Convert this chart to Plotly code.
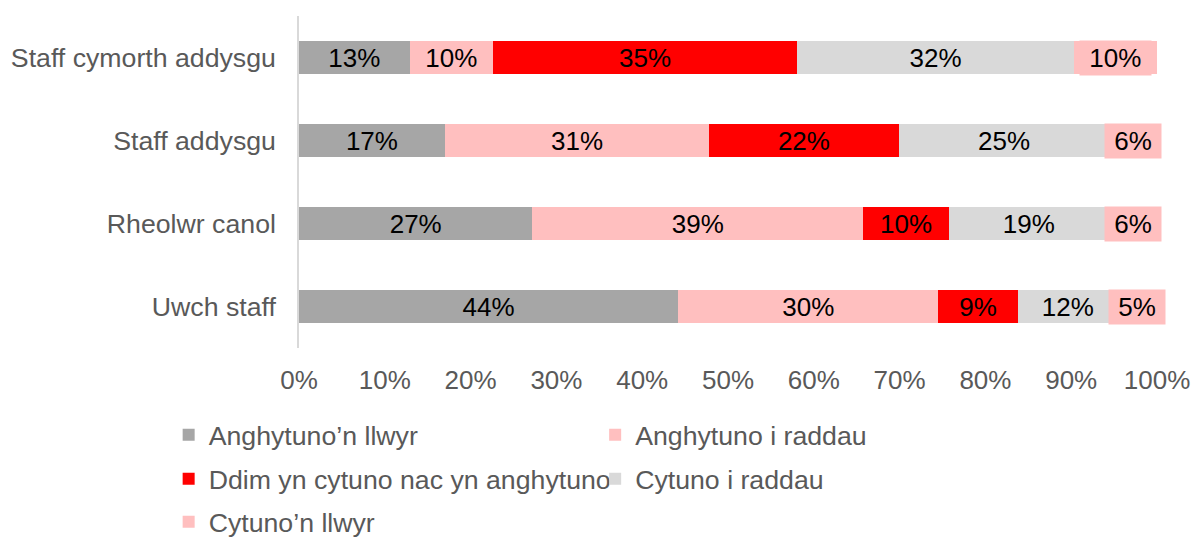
import plotly.graph_objects as go

categories = ["Staff cymorth addysgu", "Staff addysgu", "Rheolwr canol", "Uwch staff"]
series_names = ["Anghytuno’n llwyr", "Anghytuno i raddau", "Ddim yn cytuno nac yn anghytuno",
                "Cytuno i raddau", "Cytuno’n llwyr"]
anghytuno_llwyr = [12.9, 17.0, 27.2, 44.2]
anghytuno_raddau = [9.7, 30.8, 38.55, 30.3]
ddim = [35.45, 22.1, 10.0, 9.3]
cytuno_raddau = [32.3, 24.55, 18.6, 11.6]
cytuno_llwyr = [9.65, 5.55, 5.65, 4.6]
tick_vals = [0, 10, 20, 30, 40, 50, 60, 70, 80, 90, 100]
tick_text = ["0%", "10%", "20%", "30%", "40%", "50%", "60%", "70%", "80%", "90%", "100%"]

series = [anghytuno_llwyr, anghytuno_raddau, ddim, cytuno_raddau, cytuno_llwyr]
colors = ["#A6A6A6", "#FFBFBF", "#FF0000", "#D9D9D9", "#FFBFBF"]

FONT = "Liberation Sans, Arial, sans-serif"
fig = go.Figure()
legend_ids = ["legend", "legend2", "legend3", "legend4", "legend5"]
for i, (name, vals, col) in enumerate(zip(series_names, series, colors)):
    last = i == len(series) - 1
    fig.add_trace(go.Bar(
        y=categories, x=vals, name=name, orientation="h",
        marker=dict(color=col, line=dict(width=0)),
        texttemplate="%{x:.0f}%" if not last else None,
        textposition="inside" if not last else "none",
        insidetextanchor="middle",
        textangle=0,
        textfont=dict(family=FONT, size=26, color="#000000"),
        legend=legend_ids[i],
        hoverinfo="skip",
    ))

# labels with background boxes for the last series
for j, cat in enumerate(categories):
    start = sum(s[j] for s in series[:-1])
    v = cytuno_llwyr[j]
    fig.add_annotation(
        x=start + v / 2, y=cat, xref="x", yref="y",
        text=f"&nbsp;{v:.0f}%&nbsp;", showarrow=False,
        font=dict(family=FONT, size=26, color="#000000"),
        bgcolor="#FFBFBF", borderpad=2,
    )

# plot area geometry in px
top, bottom = 15.5, 347.9
H = bottom - top
L, R = 298.5, 1157.5
W = R - L

def px_x(p):
    return (p - L) / W

def px_y(p):
    return (bottom - p) / H

legend_pos = [(168, 435), (595, 435), (168, 479), (595, 479), (168, 522)]
layout_legends = {}
for lid, (lx, ly) in zip(legend_ids, legend_pos):
    layout_legends[lid] = dict(
        x=px_x(lx), y=px_y(ly), xanchor="left", yanchor="middle",
        font=dict(family=FONT, size=26.7, color="#595959"),
        bgcolor="rgba(0,0,0,0)", borderwidth=0,
    )

fig.update_layout(
    width=1194, height=538,
    margin=dict(l=L, r=1194 - R, t=top, b=538 - bottom, pad=0, autoexpand=False),
    barmode="stack", bargap=0.61,
    paper_bgcolor="white", plot_bgcolor="white",
    showlegend=True,
    **layout_legends,
    xaxis=dict(range=[0, 100], tickvals=tick_vals, ticktext=tick_text,
               showgrid=False, zeroline=False, showline=False, ticks="",
               tickfont=dict(family=FONT, size=26, color="#595959"),
               ticklabelstandoff=14, fixedrange=True, automargin=False),
    yaxis=dict(autorange="reversed", showgrid=False, zeroline=False,
               showline=True, linecolor="#D9D9D9", linewidth=1.5, ticks="",
               tickfont=dict(family=FONT, size=26.7, color="#595959"),
               ticklabelstandoff=16, fixedrange=True, automargin=False),
    uniformtext=dict(mode="show", minsize=26),
)

fig.write_html(
    "out.html",
    config={"displayModeBar": False},
    post_script="document.body.style.margin='0';document.body.style.overflow='hidden';",
)
